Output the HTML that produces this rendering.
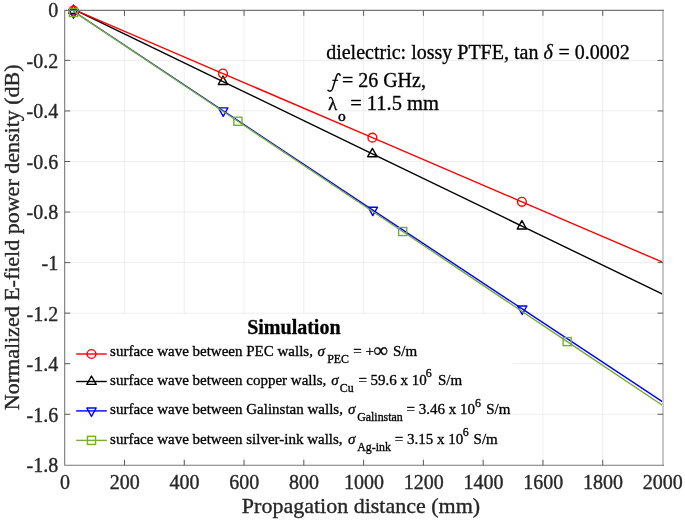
<!DOCTYPE html>
<html><head><meta charset="utf-8"><title>chart</title>
<style>html,body{margin:0;padding:0;background:#fff;}body{width:685px;height:523px;position:relative;overflow:hidden;font-family:"Liberation Serif",serif;}</style></head>
<body>
<svg width="685" height="523" viewBox="0 0 685 523" style="position:absolute;left:0;top:0;will-change:transform;font-family:'Liberation Serif',serif">
<style>text{stroke:#1a1a1a;stroke-width:0.35px;paint-order:stroke}</style>
<rect x="0" y="0" width="685" height="523" fill="#ffffff"/>
<line x1="124.48" y1="10.4" x2="124.48" y2="465.3" stroke="#eeeeee" stroke-width="1"/>
<line x1="184.26" y1="10.4" x2="184.26" y2="465.3" stroke="#eeeeee" stroke-width="1"/>
<line x1="244.04" y1="10.4" x2="244.04" y2="465.3" stroke="#eeeeee" stroke-width="1"/>
<line x1="303.82" y1="10.4" x2="303.82" y2="465.3" stroke="#eeeeee" stroke-width="1"/>
<line x1="363.60" y1="10.4" x2="363.60" y2="465.3" stroke="#eeeeee" stroke-width="1"/>
<line x1="423.38" y1="10.4" x2="423.38" y2="465.3" stroke="#eeeeee" stroke-width="1"/>
<line x1="483.16" y1="10.4" x2="483.16" y2="465.3" stroke="#eeeeee" stroke-width="1"/>
<line x1="542.94" y1="10.4" x2="542.94" y2="465.3" stroke="#eeeeee" stroke-width="1"/>
<line x1="602.72" y1="10.4" x2="602.72" y2="465.3" stroke="#eeeeee" stroke-width="1"/>
<line x1="64.7" y1="60.40" x2="663.1" y2="60.40" stroke="#eeeeee" stroke-width="1"/>
<line x1="64.7" y1="110.95" x2="663.1" y2="110.95" stroke="#eeeeee" stroke-width="1"/>
<line x1="64.7" y1="161.50" x2="663.1" y2="161.50" stroke="#eeeeee" stroke-width="1"/>
<line x1="64.7" y1="212.05" x2="663.1" y2="212.05" stroke="#eeeeee" stroke-width="1"/>
<line x1="64.7" y1="262.60" x2="663.1" y2="262.60" stroke="#eeeeee" stroke-width="1"/>
<line x1="64.7" y1="313.15" x2="663.1" y2="313.15" stroke="#eeeeee" stroke-width="1"/>
<line x1="64.7" y1="363.70" x2="663.1" y2="363.70" stroke="#eeeeee" stroke-width="1"/>
<line x1="64.7" y1="414.25" x2="663.1" y2="414.25" stroke="#eeeeee" stroke-width="1"/>
<clipPath id="c"><rect x="64.7" y="9.9" width="598.4" height="455.40000000000003"/></clipPath>
<polyline points="73.50,9.29 223.00,81.57 372.40,153.80 521.90,226.09 663.10,294.36" fill="none" stroke="#000000" stroke-width="1.4" clip-path="url(#c)"/>
<path d="M68.80 13.49 L78.20 13.49 L73.50 5.09 Z" fill="none" stroke="#000000" stroke-width="1.4" stroke-linejoin="round"/>
<path d="M218.30 84.47 L227.70 84.47 L223.00 76.07 Z" fill="none" stroke="#000000" stroke-width="1.4" stroke-linejoin="round"/>
<path d="M367.70 156.70 L377.10 156.70 L372.40 148.30 Z" fill="none" stroke="#000000" stroke-width="1.4" stroke-linejoin="round"/>
<path d="M517.20 228.99 L526.60 228.99 L521.90 220.59 Z" fill="none" stroke="#000000" stroke-width="1.4" stroke-linejoin="round"/>
<polyline points="73.50,9.43 223.00,73.57 372.40,137.67 521.90,201.82 663.10,262.40" fill="none" stroke="#ff0000" stroke-width="1.4" clip-path="url(#c)"/>
<circle cx="73.50" cy="10.63" r="4.4" fill="none" stroke="#ff0000" stroke-width="1.4"/>
<circle cx="223.00" cy="73.57" r="4.4" fill="none" stroke="#ff0000" stroke-width="1.4"/>
<circle cx="372.40" cy="137.67" r="4.4" fill="none" stroke="#ff0000" stroke-width="1.4"/>
<circle cx="521.90" cy="201.82" r="4.4" fill="none" stroke="#ff0000" stroke-width="1.4"/>
<polyline points="73.50,11.25 223.20,110.80 372.80,210.10 522.20,308.90 663.10,402.10" fill="none" stroke="#0000ff" stroke-width="1.4" clip-path="url(#c)"/>
<path d="M68.80 9.75 L78.20 9.75 L73.50 18.15 Z" fill="none" stroke="#0000ff" stroke-width="1.4" stroke-linejoin="round"/>
<path d="M218.50 107.90 L227.90 107.90 L223.20 116.30 Z" fill="none" stroke="#0000ff" stroke-width="1.4" stroke-linejoin="round"/>
<path d="M368.10 207.20 L377.50 207.20 L372.80 215.60 Z" fill="none" stroke="#0000ff" stroke-width="1.4" stroke-linejoin="round"/>
<path d="M517.50 306.00 L526.90 306.00 L522.20 314.40 Z" fill="none" stroke="#0000ff" stroke-width="1.4" stroke-linejoin="round"/>
<polyline points="73.50,11.30 237.90,121.28 402.70,231.53 567.20,341.59 663.10,405.74" fill="none" stroke="#77ac30" stroke-width="1.4" clip-path="url(#c)"/>
<rect x="69.45" y="8.35" width="8.1" height="8.1" fill="none" stroke="#77ac30" stroke-width="1.4"/>
<rect x="233.85" y="117.23" width="8.1" height="8.1" fill="none" stroke="#77ac30" stroke-width="1.4"/>
<rect x="398.65" y="227.48" width="8.1" height="8.1" fill="none" stroke="#77ac30" stroke-width="1.4"/>
<rect x="563.15" y="337.54" width="8.1" height="8.1" fill="none" stroke="#77ac30" stroke-width="1.4"/>
<rect x="70.5" y="314" width="442.5" height="143.3" fill="#ffffff"/>
<rect x="662.0" y="9.9" width="2.0" height="455.90000000000003" fill="#c8c8c8"/>
<path d="M664.0 10.4 L64.7 10.4 L64.7 465.3 L664.0 465.3" fill="none" stroke="#787878" stroke-width="1.1"/>
<line x1="124.48" y1="465.3" x2="124.48" y2="459.8" stroke="#5a5a5a" stroke-width="1"/>
<line x1="124.48" y1="10.4" x2="124.48" y2="15.9" stroke="#5a5a5a" stroke-width="1"/>
<line x1="184.26" y1="465.3" x2="184.26" y2="459.8" stroke="#5a5a5a" stroke-width="1"/>
<line x1="184.26" y1="10.4" x2="184.26" y2="15.9" stroke="#5a5a5a" stroke-width="1"/>
<line x1="244.04" y1="465.3" x2="244.04" y2="459.8" stroke="#5a5a5a" stroke-width="1"/>
<line x1="244.04" y1="10.4" x2="244.04" y2="15.9" stroke="#5a5a5a" stroke-width="1"/>
<line x1="303.82" y1="465.3" x2="303.82" y2="459.8" stroke="#5a5a5a" stroke-width="1"/>
<line x1="303.82" y1="10.4" x2="303.82" y2="15.9" stroke="#5a5a5a" stroke-width="1"/>
<line x1="363.60" y1="465.3" x2="363.60" y2="459.8" stroke="#5a5a5a" stroke-width="1"/>
<line x1="363.60" y1="10.4" x2="363.60" y2="15.9" stroke="#5a5a5a" stroke-width="1"/>
<line x1="423.38" y1="465.3" x2="423.38" y2="459.8" stroke="#5a5a5a" stroke-width="1"/>
<line x1="423.38" y1="10.4" x2="423.38" y2="15.9" stroke="#5a5a5a" stroke-width="1"/>
<line x1="483.16" y1="465.3" x2="483.16" y2="459.8" stroke="#5a5a5a" stroke-width="1"/>
<line x1="483.16" y1="10.4" x2="483.16" y2="15.9" stroke="#5a5a5a" stroke-width="1"/>
<line x1="542.94" y1="465.3" x2="542.94" y2="459.8" stroke="#5a5a5a" stroke-width="1"/>
<line x1="542.94" y1="10.4" x2="542.94" y2="15.9" stroke="#5a5a5a" stroke-width="1"/>
<line x1="602.72" y1="465.3" x2="602.72" y2="459.8" stroke="#5a5a5a" stroke-width="1"/>
<line x1="602.72" y1="10.4" x2="602.72" y2="15.9" stroke="#5a5a5a" stroke-width="1"/>
<line x1="64.7" y1="60.40" x2="70.2" y2="60.40" stroke="#5a5a5a" stroke-width="1"/>
<line x1="663.1" y1="60.40" x2="657.6" y2="60.40" stroke="#5a5a5a" stroke-width="1"/>
<line x1="64.7" y1="110.95" x2="70.2" y2="110.95" stroke="#5a5a5a" stroke-width="1"/>
<line x1="663.1" y1="110.95" x2="657.6" y2="110.95" stroke="#5a5a5a" stroke-width="1"/>
<line x1="64.7" y1="161.50" x2="70.2" y2="161.50" stroke="#5a5a5a" stroke-width="1"/>
<line x1="663.1" y1="161.50" x2="657.6" y2="161.50" stroke="#5a5a5a" stroke-width="1"/>
<line x1="64.7" y1="212.05" x2="70.2" y2="212.05" stroke="#5a5a5a" stroke-width="1"/>
<line x1="663.1" y1="212.05" x2="657.6" y2="212.05" stroke="#5a5a5a" stroke-width="1"/>
<line x1="64.7" y1="262.60" x2="70.2" y2="262.60" stroke="#5a5a5a" stroke-width="1"/>
<line x1="663.1" y1="262.60" x2="657.6" y2="262.60" stroke="#5a5a5a" stroke-width="1"/>
<line x1="64.7" y1="313.15" x2="70.2" y2="313.15" stroke="#5a5a5a" stroke-width="1"/>
<line x1="663.1" y1="313.15" x2="657.6" y2="313.15" stroke="#5a5a5a" stroke-width="1"/>
<line x1="64.7" y1="363.70" x2="70.2" y2="363.70" stroke="#5a5a5a" stroke-width="1"/>
<line x1="663.1" y1="363.70" x2="657.6" y2="363.70" stroke="#5a5a5a" stroke-width="1"/>
<line x1="64.7" y1="414.25" x2="70.2" y2="414.25" stroke="#5a5a5a" stroke-width="1"/>
<line x1="663.1" y1="414.25" x2="657.6" y2="414.25" stroke="#5a5a5a" stroke-width="1"/>
<text x="65.00" y="489.1" font-size="20" text-anchor="middle" fill="#262626">0</text>
<text x="124.78" y="489.1" font-size="20" text-anchor="middle" fill="#262626">200</text>
<text x="184.56" y="489.1" font-size="20" text-anchor="middle" fill="#262626">400</text>
<text x="244.34" y="489.1" font-size="20" text-anchor="middle" fill="#262626">600</text>
<text x="304.12" y="489.1" font-size="20" text-anchor="middle" fill="#262626">800</text>
<text x="363.90" y="489.1" font-size="20" text-anchor="middle" fill="#262626">1000</text>
<text x="423.68" y="489.1" font-size="20" text-anchor="middle" fill="#262626">1200</text>
<text x="483.46" y="489.1" font-size="20" text-anchor="middle" fill="#262626">1400</text>
<text x="543.24" y="489.1" font-size="20" text-anchor="middle" fill="#262626">1600</text>
<text x="603.02" y="489.1" font-size="20" text-anchor="middle" fill="#262626">1800</text>
<text x="662.80" y="489.1" font-size="20" text-anchor="middle" fill="#262626">2000</text>
<text x="58.2" y="17.25" font-size="20" text-anchor="end" fill="#262626">0</text>
<text x="58.2" y="67.80" font-size="20" text-anchor="end" fill="#262626">-0.2</text>
<text x="58.2" y="118.35" font-size="20" text-anchor="end" fill="#262626">-0.4</text>
<text x="58.2" y="168.90" font-size="20" text-anchor="end" fill="#262626">-0.6</text>
<text x="58.2" y="219.45" font-size="20" text-anchor="end" fill="#262626">-0.8</text>
<text x="58.2" y="270.00" font-size="20" text-anchor="end" fill="#262626">-1</text>
<text x="58.2" y="320.55" font-size="20" text-anchor="end" fill="#262626">-1.2</text>
<text x="58.2" y="371.10" font-size="20" text-anchor="end" fill="#262626">-1.4</text>
<text x="58.2" y="421.65" font-size="20" text-anchor="end" fill="#262626">-1.6</text>
<text x="58.2" y="472.20" font-size="20" text-anchor="end" fill="#262626">-1.8</text>
<text x="361" y="512.6" font-size="22" text-anchor="middle" fill="#262626">Propagation distance (mm)</text>
<text transform="translate(19.1,237.3) rotate(-90)" font-size="22" text-anchor="middle" fill="#262626">Normalized E-field power density (dB)</text>
<text x="326.2" y="59.1" font-size="20" fill="#000">dielectric: lossy PTFE, tan <tspan font-style="italic">δ</tspan></text>
<text x="558.6" y="59.1" font-size="20" fill="#000">= 0.0002</text>
<path d="M340.1 75.4 C339.8 73.5 337.6 73.0 336.6 75.8 L332.5 88.9 C331.7 91.5 329.3 91.7 328.0 90.3" fill="none" stroke="#000" stroke-width="1.5" stroke-linecap="round"/>
<path d="M332.3 80.3 L338.1 80.3" fill="none" stroke="#000" stroke-width="1.1"/>
<text x="341.9" y="86.9" font-size="20" fill="#000">= 26 GHz,</text>
<text x="328.0" y="109.9" font-size="19" fill="#000">λ</text>
<text x="338.0" y="121.2" font-size="15.5" fill="#000" style="stroke-width:0.5px">o</text>
<text x="350.2" y="109.8" font-size="20.5" fill="#000">= 11.5 mm</text>
<text x="247.2" y="333.7" font-size="20" font-weight="bold" fill="#000">Simulation</text>
<line x1="76.2" y1="354.0" x2="106.8" y2="354.0" stroke="#ff0000" stroke-width="1.4"/>
<circle cx="91.50" cy="354.00" r="4.4" fill="none" stroke="#ff0000" stroke-width="1.4"/>
<text x="110.1" y="355.7" font-size="15" fill="#000">surface wave between PEC walls, </text>
<text x="317.6" y="355.7" font-size="15" font-style="italic" fill="#000">σ</text>
<text x="327.2" y="362.7" font-size="11.9" fill="#000">PEC</text>
<text x="353.2" y="355.7" font-size="15" fill="#000">= +</text>
<line x1="76.2" y1="381.5" x2="106.8" y2="381.5" stroke="#000000" stroke-width="1.4"/>
<path d="M86.80 384.40 L96.20 384.40 L91.50 376.00 Z" fill="none" stroke="#000000" stroke-width="1.4" stroke-linejoin="round"/>
<text x="110.1" y="384.9" font-size="15" fill="#000">surface wave between copper walls, </text>
<text x="331.3" y="384.9" font-size="15" font-style="italic" fill="#000">σ</text>
<text x="339.8" y="391.9" font-size="11.9" fill="#000">Cu</text>
<text x="358.4" y="384.9" font-size="15" fill="#000">= 59.6 x 10</text>
<text x="425.8" y="377.3" font-size="11.9" fill="#000">6</text>
<text x="438.0" y="384.9" font-size="15" fill="#000">S/m</text>
<line x1="76.2" y1="410.9" x2="106.8" y2="410.9" stroke="#0000ff" stroke-width="1.4"/>
<path d="M86.80 408.00 L96.20 408.00 L91.50 416.40 Z" fill="none" stroke="#0000ff" stroke-width="1.4" stroke-linejoin="round"/>
<text x="110.1" y="414.1" font-size="15" fill="#000">surface wave between Galinstan walls, </text>
<text x="348.1" y="414.1" font-size="15" font-style="italic" fill="#000">σ</text>
<text x="357.2" y="421.1" font-size="11.9" fill="#000">Galinstan</text>
<text x="406.5" y="414.1" font-size="15" fill="#000">= 3.46 x 10</text>
<text x="475.1" y="406.5" font-size="11.9" fill="#000">6</text>
<text x="486.2" y="414.1" font-size="15" fill="#000">S/m</text>
<line x1="76.2" y1="440.4" x2="106.8" y2="440.4" stroke="#77ac30" stroke-width="1.4"/>
<rect x="87.45" y="436.35" width="8.1" height="8.1" fill="none" stroke="#77ac30" stroke-width="1.4"/>
<text x="110.1" y="444.0" font-size="15" fill="#000">surface wave between silver-ink walls, </text>
<text x="348.1" y="444.0" font-size="15" font-style="italic" fill="#000">σ</text>
<text x="357.2" y="451.0" font-size="11.9" fill="#000">Ag-ink</text>
<text x="394.8" y="444.0" font-size="15" fill="#000">= 3.15 x 10</text>
<text x="462.8" y="436.4" font-size="11.9" fill="#000">6</text>
<text x="473.6" y="444.0" font-size="15" fill="#000">S/m</text>
<text x="373.2" y="357.0" font-size="20.5" fill="#000">∞</text>
<text x="393.0" y="355.7" font-size="15" fill="#000">S/m</text>
</svg>
</body></html>
